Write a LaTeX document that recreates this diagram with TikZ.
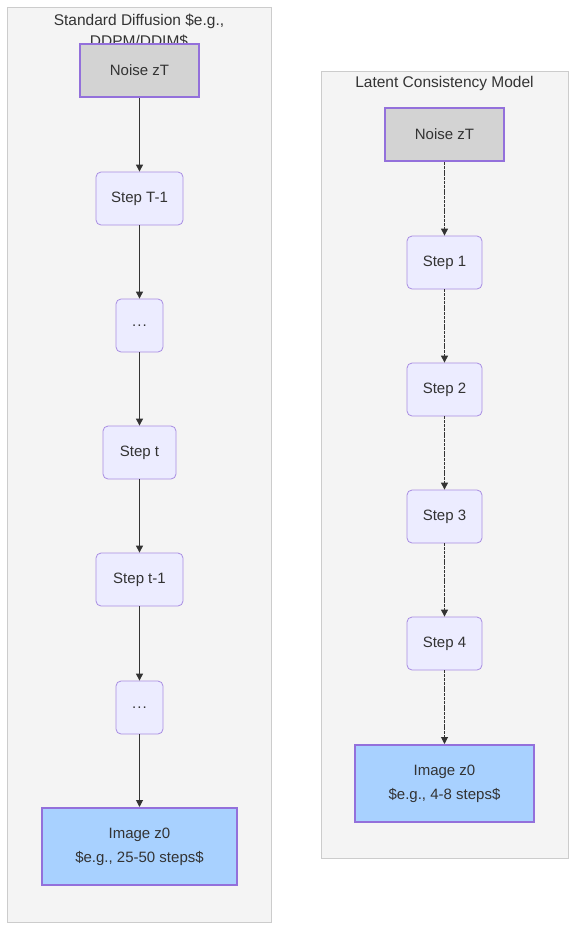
\documentclass[tikz,border=0pt]{standalone}
\usepackage{fontspec}
\setmainfont{Liberation Sans}
\usetikzlibrary{arrows.meta}
\definecolor{clfill}{HTML}{F4F4F4}
\definecolor{cldraw}{HTML}{CCCCCC}
\definecolor{stfill}{HTML}{ECECFF}
\definecolor{stdraw}{HTML}{9370DB}
\definecolor{nzfill}{HTML}{D3D3D3}
\definecolor{imfill}{HTML}{A8D1FF}
\definecolor{txt}{HTML}{333333}
\tikzset{
  cluster/.style={draw=cldraw, fill=clfill, line width=1pt},
  cltitle/.style={text=txt, font=\fontsize{15.5pt}{21pt}\selectfont, align=center, inner sep=0pt},
  stepbox/.style={draw=stdraw!80, fill=stfill, rounded corners=5pt, line width=0.8pt, text=txt,
    font=\fontsize{15pt}{21pt}\selectfont, inner sep=0pt, align=center},
  noisebox/.style={draw=stdraw, fill=nzfill, line width=2pt, text=txt,
    font=\fontsize{15pt}{21pt}\selectfont, inner sep=0pt, align=center},
  imgbox/.style={draw=stdraw, fill=imfill, line width=2pt, text=txt,
    font=\fontsize{15pt}{24pt}\selectfont, inner sep=0pt, align=center},
  flow/.style={draw=txt, line width=1pt, -{Triangle[length=7pt,width=7pt]}},
  dflow/.style={flow, dash pattern=on 3pt off 0.8pt},
}
\begin{document}
\begin{tikzpicture}[x=1pt,y=-1pt]
\useasboundingbox (0,0) rectangle (584,943);
% clusters
\path[cluster] (7,7) rectangle (271,922);
\path[cluster] (321,71) rectangle (568,858);
\node[cltitle] (t1) at (139,30.5) {Standard Diffusion \$e.g.,\\DDPM/DDIM\$};
\node[cltitle] (t2) at (444.5,83) {Latent Consistency Model};
% left nodes
\node[noisebox, minimum width=119pt, minimum height=53pt] (a0) at (139.5,70.5) {Noise zT};
\node[stepbox, minimum width=87pt, minimum height=53pt] (a1) at (139.5,198.5) {Step T-1};
\node[stepbox, minimum width=47pt, minimum height=53pt] (a2) at (139.5,325.5) {.\hspace{1pt}.\hspace{1pt}.};
\node[stepbox, minimum width=73pt, minimum height=53pt] (a3) at (139.5,452.5) {Step t};
\node[stepbox, minimum width=87pt, minimum height=53pt] (a4) at (139.5,579.5) {Step t-1};
\node[stepbox, minimum width=47pt, minimum height=53pt] (a5) at (139.5,707.5) {.\hspace{1pt}.\hspace{1pt}.};
\node[imgbox, minimum width=195pt, minimum height=77pt] (a6) at (139.5,846.5) {Image z0\\\$e.g., 25-50 steps\$};
% right nodes
\node[noisebox, minimum width=119pt, minimum height=53pt] (b0) at (444.5,134.5) {Noise zT};
\node[stepbox, minimum width=75pt, minimum height=53pt] (b1) at (444.5,262.5) {Step 1};
\node[stepbox, minimum width=75pt, minimum height=53pt] (b2) at (444.5,389.5) {Step 2};
\node[stepbox, minimum width=75pt, minimum height=53pt] (b3) at (444.5,516.5) {Step 3};
\node[stepbox, minimum width=75pt, minimum height=53pt] (b4) at (444.5,643.5) {Step 4};
\node[imgbox, minimum width=179pt, minimum height=77pt] (b5) at (444.5,783.5) {Image z0\\\$e.g., 4-8 steps\$};
% edges
\draw[flow] (a0) -- (a1);
\draw[flow] (a1) -- (a2);
\draw[flow] (a2) -- (a3);
\draw[flow] (a3) -- (a4);
\draw[flow] (a4) -- (a5);
\draw[flow] (a5) -- (a6);
\draw[dflow] (b0) -- (b1);
\draw[dflow] (b1) -- (b2);
\draw[dflow] (b2) -- (b3);
\draw[dflow] (b3) -- (b4);
\draw[dflow] (b4) -- (b5);
\end{tikzpicture}
\end{document}
